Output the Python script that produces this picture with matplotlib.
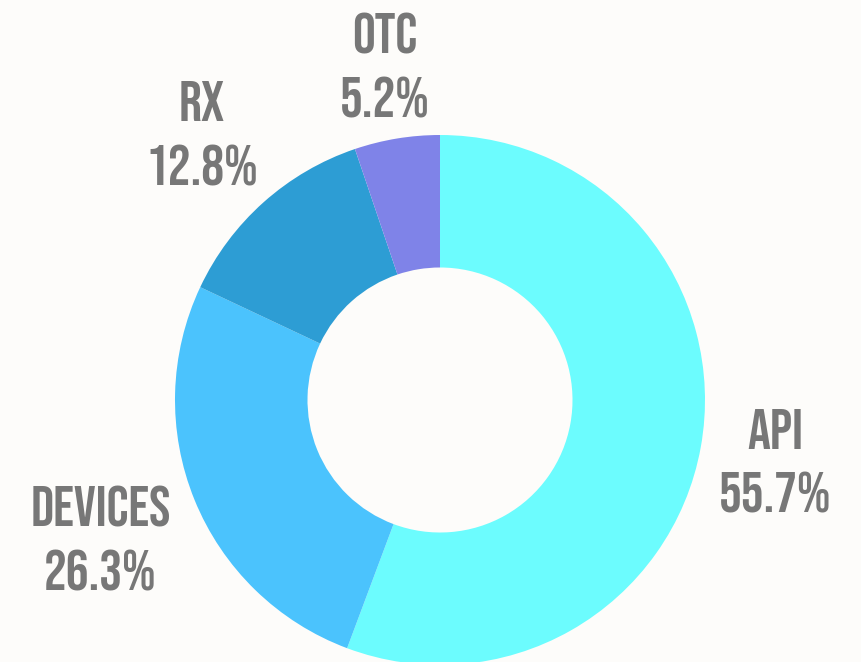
import numpy as np
import matplotlib
matplotlib.use("Agg")
import matplotlib.pyplot as plt

categories = ["API", "DEVICES", "RX", "OTC"]
values = [55.7, 26.3, 12.8, 5.2]
colors = ["#6CFCFE", "#4BC3FD", "#2D9DD4", "#7F83E8"]
label_dist = [1.286, 1.383, 1.349, 1.281]

bg = "#FDFCFA"
txt = "#777777"
fam = ["Bebas Neue", "Oswald", "DejaVu Sans"]

fig = plt.figure(figsize=(8.61, 6.62), dpi=100, facecolor=bg)
ax = fig.add_axes([0, 0, 1, 1])
ax.set_facecolor(bg)

R = 1.0
px = 265.0  # pixels per data unit
wedges, _ = ax.pie(values, colors=colors, startangle=90, counterclock=False,
                   radius=R, wedgeprops=dict(width=0.5, linewidth=0),
                   center=(0, 0))

ax.set_xlim(-440 / px, (861 - 440) / px)
ax.set_ylim(-(662 - 400) / px, 400 / px)
ax.set_aspect("equal")
ax.axis("off")

off = 32 / px
for w, name, v, d in zip(wedges, categories, values, label_dist):
    ang = np.deg2rad((w.theta1 + w.theta2) / 2)
    cx, cy = d * np.cos(ang), d * np.sin(ang)
    ax.text(cx, cy + off, name, ha="center", va="center", fontsize=41,
            color=txt, family=fam)
    ax.text(cx, cy - off, f"{v:.1f}%", ha="center", va="center", fontsize=41,
            color=txt, family=fam)

fig.savefig("out.png", dpi=100, facecolor=bg)
